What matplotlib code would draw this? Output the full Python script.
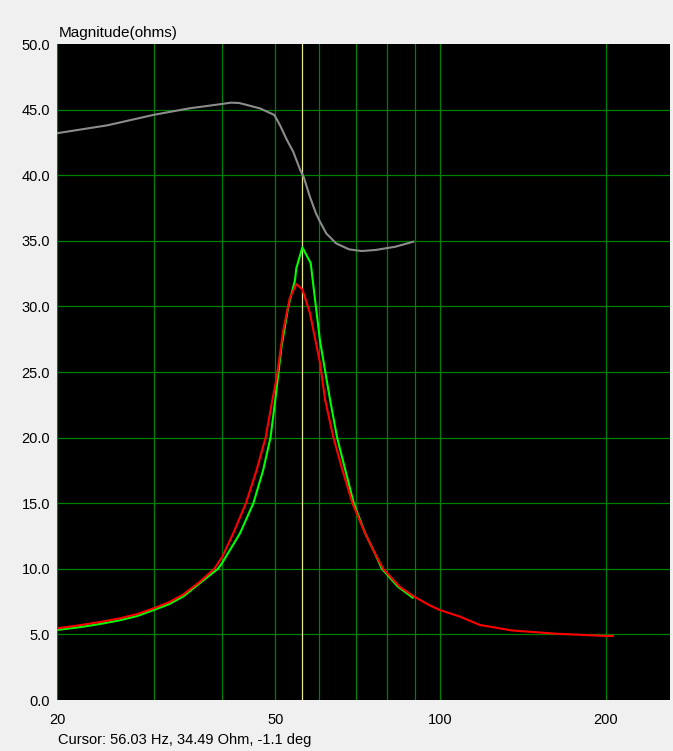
import numpy as np
import matplotlib
matplotlib.use("Agg")
import matplotlib.pyplot as plt

plt.rcParams['font.family'] = ['Liberation Sans', 'DejaVu Sans']

# gray trace
gray_f = [20, 24.7, 30, 34.9, 40, 41.5, 43, 46.9, 49.8, 51, 52.5, 53.9, 55.5, 56.3, 57.8, 59.3, 60.3,
          61.9, 64.5, 68.1, 71.8, 76.1, 82.8, 89.2]
gray_z = [43.2, 43.8, 44.6, 45.1, 45.43, 45.53, 45.5, 45.09, 44.59, 43.8, 42.68, 41.79, 40.4, 39.88, 38.36, 37.09, 36.46,
          35.57, 34.81, 34.35, 34.22, 34.3, 34.55, 34.93]

# red trace
red_f = [20, 22, 24, 26, 28, 30, 32, 34, 36.4, 38.7, 40, 41.9, 44.2, 46.2, 48.0, 49.4, 50.3, 51.7, 53.1, 54.6,
         56, 57.8, 60.3, 61.6, 63.8, 66.3, 69.1, 72.9, 75.7, 78.6, 84.2, 89, 95.3, 99.7, 108.6, 117.9, 135,
         162.8, 200.8, 206]
red_z = [5.46, 5.7, 5.95, 6.22, 6.55, 6.99, 7.45, 8.05, 9.0, 10.0, 10.9, 12.7, 15.0, 17.5, 20.0, 22.9, 24.6, 28.2, 30.6, 31.7,
         31.3, 29.5, 25.7, 22.9, 20.0, 17.5, 15.0, 12.7, 11.3, 10.0, 8.64, 7.95, 7.24, 6.86, 6.35, 5.72, 5.3,
         5.05, 4.88, 4.88]

# green trace
green_f = [20, 22, 24, 26, 28, 30, 32, 34, 36.4, 39.3, 40, 43.1, 45.6, 47.5, 49.0, 50.0, 51.3, 52.8, 54.3, 54.6,
           56, 58, 59, 60.3, 62.9, 64.8, 67.1, 69.5, 72.9, 75.7, 78.2, 83.6, 89]
green_z = [5.34, 5.55, 5.8, 6.07, 6.4, 6.86, 7.3, 7.9, 8.9, 10.0, 10.45, 12.7, 15.0, 17.5, 20.0, 22.9, 26.9, 30.0, 32.0, 32.9,
           34.5, 33.3, 30.7, 27.4, 22.9, 20.0, 17.5, 15.0, 12.7, 11.3, 10.0, 8.64, 7.8]

cursor_f = 56.03
x_grid = [20, 30, 40, 50, 60, 70, 80, 90, 100, 200]
x_labels = [20, 50, 100, 200]
y_ticks = np.arange(0, 50.1, 5)

fig = plt.figure(figsize=(6.73, 7.51), dpi=100, facecolor='#f0f0f0')
ax = fig.add_axes([57/673, 1-700/751, 613/673, 656/751])
ax.set_facecolor('black')
ax.set_xscale('log')
ax.set_xlim(20, 262)
ax.set_ylim(0, 50)

for f in x_grid:
    ax.axvline(f, color='#008000', lw=0.9, snap=True, zorder=1)
for v in y_ticks[1:-1]:
    ax.axhline(v, color='#008000', lw=0.9, snap=True, zorder=1)
ax.axvline(cursor_f, color='#e6e68c', lw=0.9, snap=True, zorder=2)

ax.plot(gray_f, gray_z, color='#8c8c8c', lw=1.5, zorder=3)
ax.plot(green_f, green_z, color='#00ff00', lw=1.5, zorder=4)
ax.plot(red_f, red_z, color='#ff0000', lw=1.5, zorder=5)

ax.set_xticks(x_labels)
ax.set_xticklabels([str(v) for v in x_labels])
ax.xaxis.set_minor_locator(matplotlib.ticker.NullLocator())
ax.set_yticks(y_ticks)
ax.set_yticklabels(['%.1f' % v for v in y_ticks])
ax.tick_params(length=0, labelsize=10.5, colors='black')
ax.tick_params(axis='x', pad=9)
ax.tick_params(axis='y', pad=5)
for s in ax.spines.values():
    s.set_visible(False)

fig.text(59/673, 1-33/751, 'Magnitude(ohms)', fontsize=11, va='center', ha='left')
fig.text(58/673, 1-740/751, 'Cursor: 56.03 Hz, 34.49 Ohm, -1.1 deg', fontsize=10.5, va='center', ha='left')

fig.savefig('out.png', dpi=100, facecolor=fig.get_facecolor())
